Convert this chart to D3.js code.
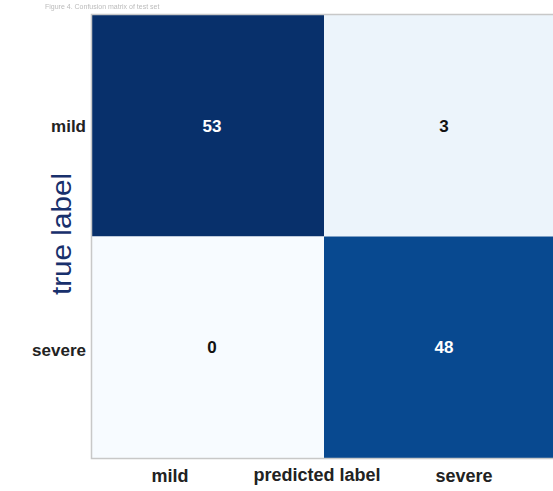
<!DOCTYPE html>
<html>
<head>
<meta charset="utf-8">
<script src="https://cdn.jsdelivr.net/npm/d3@7"></script>
<style>
  html, body { margin: 0; padding: 0; background: #fff; }
  svg { display: block; }
</style>
</head>
<body>
<div id="chart"></div>
<script>
// Confusion matrix: rows = true label, columns = predicted label
const classes = ["mild", "severe"];
const trueLabels = ["mild", "mild", "severe", "severe"];
const predLabels = ["mild", "severe", "mild", "severe"];
const counts = [53, 3, 0, 48];
const caption = "Figure 4. Confusion matrix of test set";

const W = 553, H = 491;
const plot = { left: 92, top: 15, right: 556, bottom: 458 };

const svg = d3.select("#chart").append("svg")
  .attr("width", W).attr("height", H);

const x = d3.scaleBand().domain(classes).range([plot.left, plot.right]);
const y = d3.scaleBand().domain(classes).range([plot.top, plot.bottom]);

// sequential "Blues" ramp built from its nine anchor colours
const blues = ["#f7fbff", "#deebf7", "#c6dbef", "#9ecae1", "#6baed6",
               "#4292c6", "#2171b5", "#08519c", "#08306b"];
const maxCount = d3.max(counts);
const color = d3.scaleLinear()
  .domain(blues.map((_, i) => i / (blues.length - 1) * maxCount))
  .range(blues)
  .interpolate(d3.interpolateRgb);

const cells = counts.map((v, i) => ({ t: trueLabels[i], p: predLabels[i], v }));

// faint caption above the matrix
svg.append("text")
  .attr("x", 45).attr("y", 9)
  .attr("font-family", "Liberation Sans, Arial, sans-serif")
  .attr("font-size", 7)
  .attr("fill", "#bbb")
  .style("filter", "blur(0.4px)")
  .text(caption);

// cells
svg.append("g").selectAll("rect").data(cells).join("rect")
  .attr("x", d => x(d.p))
  .attr("y", d => y(d.t))
  .attr("width", x.bandwidth())
  .attr("height", y.bandwidth())
  .attr("fill", d => color(d.v));

// frame
svg.append("rect")
  .attr("x", plot.left - 0.5).attr("y", plot.top - 0.5)
  .attr("width", plot.right - plot.left + 1)
  .attr("height", plot.bottom - plot.top + 1)
  .attr("fill", "none")
  .attr("stroke", "#c8c8c8")
  .attr("stroke-width", 1.5);

// cell values
const thresh = maxCount / 2;
svg.append("g").selectAll("text").data(cells).join("text")
  .attr("x", d => x(d.p) + x.bandwidth() / 2 + 4)
  .attr("y", d => y(d.t) + y.bandwidth() / 2 + 6)
  .attr("text-anchor", "middle")
  .attr("font-family", "Liberation Sans, Arial, sans-serif")
  .attr("font-weight", "bold")
  .attr("font-size", 17)
  .attr("fill", d => d.v > thresh ? "#ffffff" : "#111111")
  .text(d => d.v);

// y axis tick labels
const yAxis = d3.axisLeft(y).tickSize(0).tickPadding(6);
const gy = svg.append("g").attr("transform", `translate(${plot.left},0)`).call(yAxis);
gy.select(".domain").remove();
gy.selectAll("text")
  .attr("font-family", "Liberation Sans, Arial, sans-serif")
  .attr("font-weight", "bold")
  .attr("font-size", 17)
  .attr("fill", "#222")
  .attr("dy", "0.32em")
  .attr("transform", (d, i) => `translate(0,${i === 0 ? 1 : 3})`);

// x axis tick labels
const xAxis = d3.axisBottom(x).tickSize(0).tickPadding(11);
const gx = svg.append("g").attr("transform", `translate(0,${plot.bottom})`).call(xAxis);
gx.select(".domain").remove();
gx.selectAll("text")
  .attr("font-family", "Liberation Sans, Arial, sans-serif")
  .attr("font-weight", "bold")
  .attr("font-size", 18)
  .attr("fill", "#222")
  .attr("transform", (d, i) => `translate(${i === 0 ? -38 : 24},0)`);

// axis titles
svg.append("text")
  .attr("x", 317).attr("y", 481)
  .attr("text-anchor", "middle")
  .attr("font-family", "Liberation Sans, Arial, sans-serif")
  .attr("font-weight", "bold")
  .attr("font-size", 18)
  .attr("fill", "#222")
  .text("predicted label");

svg.append("text")
  .attr("transform", "translate(71,234) rotate(-90)")
  .attr("text-anchor", "middle")
  .attr("font-family", "Liberation Sans Narrow, Liberation Sans, Arial, sans-serif")
  .attr("font-size", 27)
  .attr("fill", "#18306c")
  .attr("textLength", 122)
  .attr("lengthAdjust", "spacingAndGlyphs")
  .text("true label");
</script>
</body>
</html>
